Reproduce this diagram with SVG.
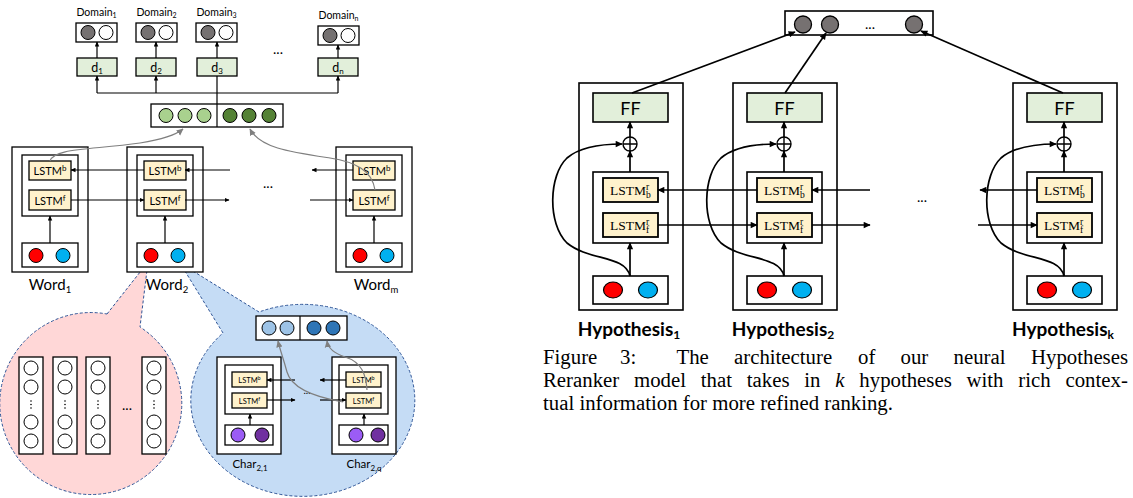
<svg xmlns="http://www.w3.org/2000/svg" width="1133" height="498" viewBox="0 0 1133 498">
<style>
.box{fill:#fff;stroke:#000;stroke-width:1.3}
.boxR{fill:#fff;stroke:#000;stroke-width:1.6}
.lstm{fill:#fff2cc;stroke:#000;stroke-width:1.3}
.lstmR{fill:#fff2cc;stroke:#000;stroke-width:1.8}
.grn{fill:#e2efda;stroke:#000;stroke-width:1.3}
.grnR{fill:#e2efda;stroke:#000;stroke-width:1.6}
.ln{stroke:#000;stroke-width:1.2;fill:none}
.lnR{stroke:#000;stroke-width:1.7;fill:none}
.gry{stroke:#7f7f7f;stroke-width:1.2;fill:none}
.cal{font-family:Lato,"Open Sans",sans-serif;fill:#000}
.lt{font-family:Lato,"Open Sans",sans-serif;font-size:11px;text-anchor:middle}
.lts{font-family:Lato,"Open Sans",sans-serif;font-size:7.5px;text-anchor:middle}
.ser{font-family:"Liberation Serif",serif;font-size:13.5px}
.cap{font-family:"Liberation Serif",serif;font-size:20.8px;fill:#000}
.hyp{font-family:Lato,"Open Sans",sans-serif;font-size:19px;font-weight:bold;text-anchor:middle}
.bub{stroke:#2f5597;stroke-width:1;stroke-dasharray:3 2}
</style>
<defs>
<marker id="a" viewBox="0 0 10 10" refX="9" refY="5" markerWidth="5" markerHeight="5" orient="auto" markerUnits="userSpaceOnUse"><path d="M0,0.5 L10,5 L0,9.5 z" fill="#000"/></marker>
<marker id="A" viewBox="0 0 10 10" refX="9" refY="5" markerWidth="8" markerHeight="7" orient="auto" markerUnits="userSpaceOnUse"><path d="M0,0.5 L10,5 L0,9.5 z" fill="#000"/></marker>
<marker id="g" viewBox="0 0 10 10" refX="9" refY="5" markerWidth="7" markerHeight="7" orient="auto" markerUnits="userSpaceOnUse"><path d="M0,0.5 L10,5 L0,9.5 z" fill="#7f7f7f"/></marker>
</defs>

<!-- bubbles -->
<g id="bubble-pink">
<path class="bub" fill="#ffd7d7" d="M107,314 L148,262 L140,327 A91,91 0 1 1 107,314 Z"/>
</g>
<g id="bubble-blue">
<path class="bub" fill="#c5dcf5" d="M180,263 L259,312 A112,96 0 1 1 223,333 Z"/>
</g>

<!-- domain outputs -->
<g id="domain1" transform="translate(76,23)">
<text class="cal" x="20.5" y="-7" font-size="10.5" text-anchor="middle">Domain<tspan font-size="7" dy="2">1</tspan></text>
<rect class="box" x="0" y="0" width="41" height="19"/>
<circle cx="12" cy="9.5" r="7" fill="#757171" stroke="#000"/>
<circle cx="30" cy="9.5" r="7" fill="#fff" stroke="#000"/>
</g>
<g id="domain2" transform="translate(136,23)">
<text class="cal" x="20.5" y="-7" font-size="10.5" text-anchor="middle">Domain<tspan font-size="7" dy="2">2</tspan></text>
<rect class="box" x="0" y="0" width="41" height="19"/>
<circle cx="12" cy="9.5" r="7" fill="#757171" stroke="#000"/>
<circle cx="30" cy="9.5" r="7" fill="#fff" stroke="#000"/>
</g>
<g id="domain3" transform="translate(196,23)">
<text class="cal" x="20.5" y="-7" font-size="10.5" text-anchor="middle">Domain<tspan font-size="7" dy="2">3</tspan></text>
<rect class="box" x="0" y="0" width="41" height="19"/>
<circle cx="12" cy="9.5" r="7" fill="#757171" stroke="#000"/>
<circle cx="30" cy="9.5" r="7" fill="#fff" stroke="#000"/>
</g>
<g id="domainn" transform="translate(318,26)">
<text class="cal" x="20.5" y="-7" font-size="10.5" text-anchor="middle">Domain<tspan font-size="7" dy="2">n</tspan></text>
<rect class="box" x="0" y="0" width="41" height="19"/>
<circle cx="12" cy="9.5" r="7" fill="#757171" stroke="#000"/>
<circle cx="30" cy="9.5" r="7" fill="#fff" stroke="#000"/>
</g>
<text class="cal" x="278" y="54" font-size="14" text-anchor="middle">...</text>

<!-- d classifiers -->
<g id="d1"><rect class="grn" x="77" y="58" width="40" height="18"/><text class="cal" x="97" y="72" font-size="12.5" text-anchor="middle">d<tspan font-size="8" dy="2">1</tspan></text></g>
<g id="d2"><rect class="grn" x="136" y="58" width="40" height="18"/><text class="cal" x="156" y="72" font-size="12.5" text-anchor="middle">d<tspan font-size="8" dy="2">2</tspan></text></g>
<g id="d3"><rect class="grn" x="197" y="58" width="40" height="18"/><text class="cal" x="217" y="72" font-size="12.5" text-anchor="middle">d<tspan font-size="8" dy="2">3</tspan></text></g>
<g id="dn"><rect class="grn" x="318" y="58" width="40" height="18"/><text class="cal" x="338" y="72" font-size="12.5" text-anchor="middle">d<tspan font-size="8" dy="2">n</tspan></text></g>

<!-- sentence vector -->
<g id="sentvec">
<rect class="box" x="151" y="104" width="132" height="23"/>
<line x1="217" y1="104" x2="217" y2="127" stroke="#000" stroke-width="1.2"/>
<circle cx="166" cy="115.5" r="7" fill="#a9d18e" stroke="#000"/>
<circle cx="185" cy="115.5" r="7" fill="#a9d18e" stroke="#000"/>
<circle cx="204" cy="115.5" r="7" fill="#a9d18e" stroke="#000"/>
<circle cx="230" cy="115.5" r="7" fill="#548235" stroke="#000"/>
<circle cx="249" cy="115.5" r="7" fill="#548235" stroke="#000"/>
<circle cx="269" cy="115.5" r="7" fill="#548235" stroke="#000"/>
</g>

<!-- word nodes -->
<g id="word1" transform="translate(12,147)">
<rect class="box" x="0" y="0" width="76" height="125"/>
<rect class="box" x="10" y="8" width="56" height="61"/>
<rect class="lstm" x="17" y="14" width="42" height="19"/>
<text class="lt" x="38" y="28">LSTM<tspan font-size="8" dy="-4">b</tspan></text>
<rect class="lstm" x="17" y="43" width="42" height="20"/>
<text class="lt" x="38" y="57.5">LSTM<tspan font-size="8" dy="-4">f</tspan></text>
<rect class="box" x="10" y="96" width="56" height="24"/>
<circle cx="24" cy="108.5" r="7" fill="#ff0000" stroke="#000"/>
<circle cx="51" cy="108.5" r="7" fill="#00b0f0" stroke="#000"/>
<text class="cal" x="38" y="143" font-size="15" text-anchor="middle">Word<tspan font-size="9.5" dy="3">1</tspan></text>
</g>
<g id="word2" transform="translate(127,147)">
<rect class="box" x="0" y="0" width="76" height="125"/>
<rect class="box" x="10" y="8" width="56" height="61"/>
<rect class="lstm" x="17" y="14" width="42" height="19"/>
<text class="lt" x="38" y="28">LSTM<tspan font-size="8" dy="-4">b</tspan></text>
<rect class="lstm" x="17" y="43" width="42" height="20"/>
<text class="lt" x="38" y="57.5">LSTM<tspan font-size="8" dy="-4">f</tspan></text>
<rect class="box" x="10" y="96" width="56" height="24"/>
<circle cx="24" cy="108.5" r="7" fill="#ff0000" stroke="#000"/>
<circle cx="51" cy="108.5" r="7" fill="#00b0f0" stroke="#000"/>
<text class="cal" x="40" y="143" font-size="15" text-anchor="middle">Word<tspan font-size="9.5" dy="3">2</tspan></text>
</g>
<g id="wordm" transform="translate(336,147)">
<rect class="box" x="0" y="0" width="76" height="125"/>
<rect class="box" x="10" y="8" width="56" height="61"/>
<rect class="lstm" x="17" y="14" width="42" height="19"/>
<text class="lt" x="38" y="28">LSTM<tspan font-size="8" dy="-4">b</tspan></text>
<rect class="lstm" x="17" y="43" width="42" height="20"/>
<text class="lt" x="38" y="57.5">LSTM<tspan font-size="8" dy="-4">f</tspan></text>
<rect class="box" x="10" y="96" width="56" height="24"/>
<circle cx="24" cy="108.5" r="7" fill="#ff0000" stroke="#000"/>
<circle cx="51" cy="108.5" r="7" fill="#00b0f0" stroke="#000"/>
<text class="cal" x="40" y="143" font-size="15" text-anchor="middle">Word<tspan font-size="9.5" dy="3">m</tspan></text>
</g>
<text class="cal" x="268" y="188" font-size="14" text-anchor="middle">...</text>

<!-- word embedding columns in pink bubble -->
<g id="wordemb">
<g id="col1" transform="translate(19,357)">
<rect class="box" x="0" y="0" width="24" height="97"/>
<circle cx="12" cy="11" r="7" fill="#fff" stroke="#000"/><circle cx="12" cy="30" r="7" fill="#fff" stroke="#000"/>
<circle cx="12" cy="44" r="0.8"/><circle cx="12" cy="47.5" r="0.8"/><circle cx="12" cy="51" r="0.8"/>
<circle cx="12" cy="65" r="7" fill="#fff" stroke="#000"/><circle cx="12" cy="84" r="7" fill="#fff" stroke="#000"/>
</g>
<g id="col2" transform="translate(53,357)">
<rect class="box" x="0" y="0" width="24" height="97"/>
<circle cx="12" cy="11" r="7" fill="#fff" stroke="#000"/><circle cx="12" cy="30" r="7" fill="#fff" stroke="#000"/>
<circle cx="12" cy="44" r="0.8"/><circle cx="12" cy="47.5" r="0.8"/><circle cx="12" cy="51" r="0.8"/>
<circle cx="12" cy="65" r="7" fill="#fff" stroke="#000"/><circle cx="12" cy="84" r="7" fill="#fff" stroke="#000"/>
</g>
<g id="col3" transform="translate(86,357)">
<rect class="box" x="0" y="0" width="24" height="97"/>
<circle cx="12" cy="11" r="7" fill="#fff" stroke="#000"/><circle cx="12" cy="30" r="7" fill="#fff" stroke="#000"/>
<circle cx="12" cy="44" r="0.8"/><circle cx="12" cy="47.5" r="0.8"/><circle cx="12" cy="51" r="0.8"/>
<circle cx="12" cy="65" r="7" fill="#fff" stroke="#000"/><circle cx="12" cy="84" r="7" fill="#fff" stroke="#000"/>
</g>
<g id="col4" transform="translate(142,357)">
<rect class="box" x="0" y="0" width="24" height="97"/>
<circle cx="12" cy="11" r="7" fill="#fff" stroke="#000"/><circle cx="12" cy="30" r="7" fill="#fff" stroke="#000"/>
<circle cx="12" cy="44" r="0.8"/><circle cx="12" cy="47.5" r="0.8"/><circle cx="12" cy="51" r="0.8"/>
<circle cx="12" cy="65" r="7" fill="#fff" stroke="#000"/><circle cx="12" cy="84" r="7" fill="#fff" stroke="#000"/>
</g>
<text class="cal" x="127" y="410" font-size="14" text-anchor="middle">...</text>
</g>

<!-- char vector -->
<g id="charvec">
<rect class="box" x="256" y="316" width="91" height="24"/>
<line x1="300" y1="316" x2="300" y2="340" stroke="#000" stroke-width="1.2"/>
<circle cx="269" cy="328" r="7" fill="#9dc3e6" stroke="#000"/>
<circle cx="287" cy="328" r="7" fill="#9dc3e6" stroke="#000"/>
<circle cx="314" cy="328" r="7" fill="#2e75b6" stroke="#000"/>
<circle cx="333" cy="328" r="7" fill="#2e75b6" stroke="#000"/>
</g>

<!-- char nodes -->
<g id="char21" transform="translate(217,357)">
<rect class="box" x="0" y="0" width="64" height="97"/>
<rect class="box" x="8" y="8" width="48" height="49"/>
<rect class="lstm" x="15" y="15" width="35" height="15"/>
<text class="lts" x="32.5" y="25.5">LSTM<tspan font-size="5.5" dy="-3">b</tspan></text>
<rect class="lstm" x="15" y="36" width="35" height="15"/>
<text class="lts" x="32.5" y="46.5">LSTM<tspan font-size="5.5" dy="-3">f</tspan></text>
<rect class="box" x="8" y="68" width="48" height="20"/>
<circle cx="21" cy="78" r="7" fill="#9b5cf5" stroke="#000"/>
<circle cx="45" cy="78" r="7" fill="#7030a0" stroke="#000"/>
<text class="cal" x="33" y="111" font-size="11.5" text-anchor="middle">Char<tspan font-size="8" dy="2.5">2,1</tspan></text>
</g>
<g id="char2q" transform="translate(332,357)">
<rect class="box" x="0" y="0" width="64" height="97"/>
<rect class="box" x="7" y="8" width="49" height="49"/>
<rect class="lstm" x="14" y="15" width="35" height="15"/>
<text class="lts" x="31.5" y="25.5">LSTM<tspan font-size="5.5" dy="-3">b</tspan></text>
<rect class="lstm" x="14" y="36" width="35" height="15"/>
<text class="lts" x="31.5" y="46.5">LSTM<tspan font-size="5.5" dy="-3">f</tspan></text>
<rect class="box" x="7" y="68" width="49" height="20"/>
<circle cx="24" cy="78" r="7" fill="#9b5cf5" stroke="#000"/>
<circle cx="46" cy="78" r="7" fill="#7030a0" stroke="#000"/>
<text class="cal" x="32" y="111" font-size="11.5" text-anchor="middle">Char<tspan font-size="8" dy="2.5">2,q</tspan></text>
</g>
<text class="cal" x="307" y="394" font-size="10" text-anchor="middle">...</text>

<!-- right: output -->
<g id="output">
<rect class="boxR" x="785" y="11" width="148" height="24"/>
<ellipse cx="803" cy="24.5" rx="8.5" ry="8.5" fill="#767171" stroke="#000" stroke-width="1.3"/>
<ellipse cx="830" cy="24.5" rx="8.5" ry="8.5" fill="#767171" stroke="#000" stroke-width="1.3"/>
<ellipse cx="914" cy="24.5" rx="8.5" ry="8.5" fill="#767171" stroke="#000" stroke-width="1.3"/>
<text class="cal" x="870" y="29" font-size="14" text-anchor="middle">...</text>
</g>

<!-- hypotheses -->
<g id="hyp1" transform="translate(579,83)">
<rect class="boxR" x="0" y="0" width="104" height="227"/>
<rect class="grnR" x="14" y="10" width="75" height="29"/>
<text class="cal" x="51.5" y="31.5" font-size="18" text-anchor="middle">FF</text>
<circle cx="51" cy="61" r="7" fill="#fff" stroke="#000" stroke-width="1.4"/>
<path d="M44,61 H58 M51,54 V68" stroke="#000" stroke-width="1.4"/>
<rect class="boxR" x="14" y="89" width="75" height="71"/>
<rect class="lstmR" x="24" y="95" width="55" height="24"/>
<text class="ser" x="31" y="112">LSTM<tspan font-size="9.5" dy="-5">r</tspan><tspan font-size="9.5" dx="-3.3" dy="8">b</tspan></text>
<rect class="lstmR" x="24" y="130" width="55" height="24"/>
<text class="ser" x="31" y="147">LSTM<tspan font-size="9.5" dy="-5">r</tspan><tspan font-size="9.5" dx="-3.3" dy="8">f</tspan></text>
<rect class="boxR" x="14" y="193" width="75" height="28"/>
<ellipse cx="34" cy="207" rx="9.5" ry="8" fill="#ff0000" stroke="#000" stroke-width="1.2"/>
<ellipse cx="69" cy="207" rx="9.5" ry="8" fill="#00b0f0" stroke="#000" stroke-width="1.2"/>
<text class="hyp" x="50" y="253">Hypothesis<tspan font-size="12" dy="3">1</tspan></text>
</g>
<g id="hyp2" transform="translate(733,83)">
<rect class="boxR" x="0" y="0" width="104" height="227"/>
<rect class="grnR" x="14" y="10" width="75" height="29"/>
<text class="cal" x="51.5" y="31.5" font-size="18" text-anchor="middle">FF</text>
<circle cx="51" cy="61" r="7" fill="#fff" stroke="#000" stroke-width="1.4"/>
<path d="M44,61 H58 M51,54 V68" stroke="#000" stroke-width="1.4"/>
<rect class="boxR" x="14" y="89" width="75" height="71"/>
<rect class="lstmR" x="24" y="95" width="55" height="24"/>
<text class="ser" x="31" y="112">LSTM<tspan font-size="9.5" dy="-5">r</tspan><tspan font-size="9.5" dx="-3.3" dy="8">b</tspan></text>
<rect class="lstmR" x="24" y="130" width="55" height="24"/>
<text class="ser" x="31" y="147">LSTM<tspan font-size="9.5" dy="-5">r</tspan><tspan font-size="9.5" dx="-3.3" dy="8">f</tspan></text>
<rect class="boxR" x="14" y="193" width="75" height="28"/>
<ellipse cx="34" cy="207" rx="9.5" ry="8" fill="#ff0000" stroke="#000" stroke-width="1.2"/>
<ellipse cx="69" cy="207" rx="9.5" ry="8" fill="#00b0f0" stroke="#000" stroke-width="1.2"/>
<text class="hyp" x="50" y="253">Hypothesis<tspan font-size="12" dy="3">2</tspan></text>
</g>
<g id="hypk" transform="translate(1013,83)">
<rect class="boxR" x="0" y="0" width="104" height="227"/>
<rect class="grnR" x="14" y="10" width="75" height="29"/>
<text class="cal" x="51.5" y="31.5" font-size="18" text-anchor="middle">FF</text>
<circle cx="51" cy="61" r="7" fill="#fff" stroke="#000" stroke-width="1.4"/>
<path d="M44,61 H58 M51,54 V68" stroke="#000" stroke-width="1.4"/>
<rect class="boxR" x="14" y="89" width="75" height="71"/>
<rect class="lstmR" x="24" y="95" width="55" height="24"/>
<text class="ser" x="31" y="112">LSTM<tspan font-size="9.5" dy="-5">r</tspan><tspan font-size="9.5" dx="-3.3" dy="8">b</tspan></text>
<rect class="lstmR" x="24" y="130" width="55" height="24"/>
<text class="ser" x="31" y="147">LSTM<tspan font-size="9.5" dy="-5">r</tspan><tspan font-size="9.5" dx="-3.3" dy="8">f</tspan></text>
<rect class="boxR" x="14" y="193" width="75" height="28"/>
<ellipse cx="34" cy="207" rx="9.5" ry="8" fill="#ff0000" stroke="#000" stroke-width="1.2"/>
<ellipse cx="69" cy="207" rx="9.5" ry="8" fill="#00b0f0" stroke="#000" stroke-width="1.2"/>
<text class="hyp" x="50" y="253">Hypothesis<tspan font-size="12" dy="3">k</tspan></text>
</g>
<text class="cal" x="922" y="202" font-size="14" text-anchor="middle">...</text>

<!-- connectors -->
<g id="connectors">
<path class="ln" marker-end="url(#a)" d="M97,58 V42"/>
<path class="ln" marker-end="url(#a)" d="M156,58 V42"/>
<path class="ln" marker-end="url(#a)" d="M217,58 V42"/>
<path class="ln" marker-end="url(#a)" d="M338,58 V45"/>
<path class="ln" d="M97,93 H338 M217,104 V76"/>
<path class="ln" marker-end="url(#a)" d="M97,93 V76"/>
<path class="ln" marker-end="url(#a)" d="M156,93 V76"/>
<path class="ln" marker-end="url(#a)" d="M338,93 V76"/>
<path class="ln" marker-end="url(#a)" d="M50,243 V216"/>
<path class="ln" marker-end="url(#a)" d="M165,243 V216"/>
<path class="ln" marker-end="url(#a)" d="M374,243 V216"/>
<path class="ln" marker-end="url(#a)" d="M144,170 H71"/>
<path class="ln" marker-end="url(#a)" d="M230,170 H185"/>
<path class="ln" marker-end="url(#a)" d="M353,170 H312"/>
<path class="ln" marker-end="url(#a)" d="M71,200 H144"/>
<path class="ln" marker-end="url(#a)" d="M185,200 H229"/>
<path class="ln" marker-end="url(#a)" d="M310,200 H353"/>
<path class="gry" marker-end="url(#g)" d="M50,161 C54,148 90,150 140,143 C165,139 177,134 183,129"/>
<path class="gry" marker-end="url(#g)" d="M375,190 C372,170 355,162 330,158 C290,152 260,148 250,129"/>
<path class="ln" marker-end="url(#a)" d="M250,425 V414"/>
<path class="ln" marker-end="url(#a)" d="M364,425 V414"/>
<path class="ln" marker-end="url(#a)" d="M295,380 H267"/>
<path class="ln" marker-end="url(#a)" d="M346,380 H320"/>
<path class="ln" marker-end="url(#a)" d="M267,400 H295"/>
<path class="ln" marker-end="url(#a)" d="M320,400 H346"/>
<path class="gry" marker-end="url(#g)" d="M343,402 C320,398 292,390 287,372 C283,357 280,350 278,341"/>
<path class="gry" marker-end="url(#g)" d="M367,390 C366,375 362,362 345,357 C333,353 328,348 327,341"/>
<path class="lnR" marker-end="url(#A)" d="M632,93 L795,32"/>
<path class="lnR" marker-end="url(#A)" d="M785,93 L826,33"/>
<path class="lnR" marker-end="url(#A)" d="M1063,93 L921,31"/>
<path class="lnR" marker-end="url(#A)" d="M630,276 V243"/>
<path class="lnR" marker-end="url(#A)" d="M630,172 V151"/>
<path class="lnR" marker-end="url(#A)" d="M630,137 V122"/>
<path class="lnR" marker-end="url(#A)" d="M784,276 V243"/>
<path class="lnR" marker-end="url(#A)" d="M784,172 V151"/>
<path class="lnR" marker-end="url(#A)" d="M784,137 V122"/>
<path class="lnR" marker-end="url(#A)" d="M1064,276 V243"/>
<path class="lnR" marker-end="url(#A)" d="M1064,172 V151"/>
<path class="lnR" marker-end="url(#A)" d="M1064,137 V122"/>
<path class="lnR" marker-end="url(#A)" d="M630,276 C625,255 589,261 567,243 C547,223 549,175 567,158 C581,146 604,144 622,144"/>
<path class="lnR" marker-end="url(#A)" d="M784,276 C779,255 743,261 721,243 C701,223 703,175 721,158 C735,146 758,144 776,144"/>
<path class="lnR" marker-end="url(#A)" d="M1064,276 C1059,255 1023,261 1001,243 C981,223 983,175 1001,158 C1015,146 1038,144 1056,144"/>
<path class="lnR" marker-end="url(#A)" d="M757,190 H658"/>
<path class="lnR" marker-end="url(#A)" d="M870,190 H812"/>
<path class="lnR" marker-end="url(#A)" d="M1037,190 H980"/>
<path class="lnR" marker-end="url(#A)" d="M658,225 H757"/>
<path class="lnR" marker-end="url(#A)" d="M812,225 H870"/>
<path class="lnR" marker-end="url(#A)" d="M978,225 H1037"/>
</g>

<!-- caption -->
<g id="caption">
<text class="cap" y="364"><tspan x="543">Figure</tspan><tspan x="620">3:</tspan><tspan x="676.5">The</tspan><tspan x="734">architecture</tspan><tspan x="858">of</tspan><tspan x="900.5">our</tspan><tspan x="953.5">neural</tspan><tspan x="1031">Hypotheses</tspan></text>
<text class="cap" x="543" y="387" word-spacing="9.6">Reranker model that takes in <tspan font-style="italic">k</tspan> hypotheses with rich contex-</text>
<text class="cap" x="543" y="410">tual information for more refined ranking.</text>
</g>
</svg>
